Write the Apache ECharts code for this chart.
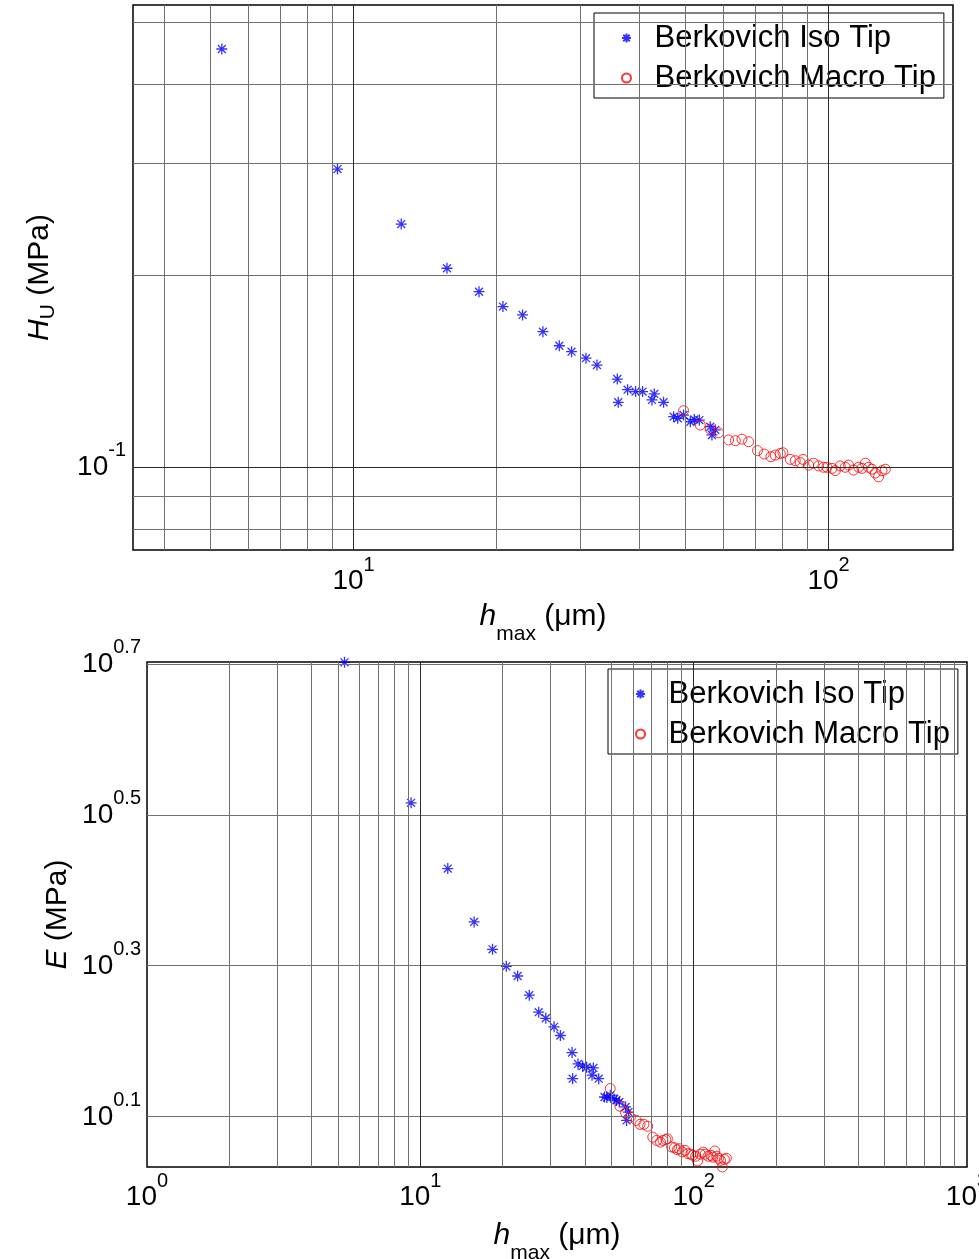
<!DOCTYPE html>
<html>
<head>
<meta charset="utf-8">
<script src="https://cdn.jsdelivr.net/npm/echarts@6/dist/echarts.min.js"></script>
<style>
  html, body { margin: 0; padding: 0; background: #fff; }
  #chart { width: 979px; height: 1259px; }
</style>
</head>
<body>
<div id="chart"></div>
<script>
// h_max (um), shared by both panels
var hIso = [5.28, 9.25, 12.60, 15.73, 18.37, 20.63, 22.69, 25.04, 27.11, 28.77, 30.85, 32.54, 35.91, 36.08, 37.75,
  39.24, 40.59, 42.96, 42.48, 44.94, 47.18, 48.14, 49.52, 51.16, 52.17, 53.45, 56.36, 56.82, 57.74];
var huIso = [0.454, 0.294, 0.241, 0.2054, 0.1887, 0.1788, 0.1735, 0.1633, 0.1552, 0.1519, 0.1484, 0.1447, 0.1376, 0.1265, 0.1324,
  0.1315, 0.1315, 0.1304, 0.1276, 0.1265, 0.1201, 0.1194, 0.1208, 0.1179, 0.1189, 0.1186, 0.1158, 0.1124, 0.1145];
var eIso = [5.035, 3.281, 2.685, 2.282, 2.099, 1.993, 1.935, 1.825, 1.733, 1.701, 1.657, 1.614, 1.532, 1.415, 1.480,
  1.470, 1.465, 1.462, 1.430, 1.415, 1.338, 1.336, 1.345, 1.331, 1.325, 1.318, 1.298, 1.246, 1.278];

var hMacro = [49.52, 53.70, 56.36, 58.67, 61.60, 63.63, 65.72, 67.86, 70.87, 73.21, 75.62, 77.22, 79.11, 80.17, 83.06,
  85.10, 87.19, 88.34, 90.77, 92.99, 95.27, 97.61, 99.22, 101.7, 103.3, 105.8, 108.4, 110.2, 112.9, 115.7,
  117.6, 119.5, 121.4, 123.4, 125.4, 127.4, 129.6, 131.7];
var huMacro = [0.1227, 0.1165, 0.1148, 0.1133, 0.1104, 0.1101, 0.1107, 0.1097, 0.1062, 0.1049, 0.1039, 0.1045, 0.1051, 0.1054, 0.1029,
  0.1024, 0.1017, 0.1029, 0.1008, 0.1015, 0.1005, 0.1000, 0.1000, 0.0996, 0.0988, 0.1005, 0.1000, 0.1008, 0.0990, 0.1000,
  0.0996, 0.1015, 0.1000, 0.0993, 0.0979, 0.0966, 0.0988, 0.0993];
var eMacro = [1.373, 1.301, 1.275, 1.258, 1.246, 1.231, 1.231, 1.224, 1.184, 1.172, 1.166, 1.172, 1.175, 1.178, 1.149,
  1.146, 1.139, 1.143, 1.132, 1.137, 1.126, 1.124, 1.120, 1.117, 1.101, 1.124, 1.131, 1.124, 1.117, 1.120,
  1.114, 1.135, 1.117, 1.110, 1.103, 1.081, 1.106, 1.110];

// axis limits and tick / grid values
var topXRange = [3.433, 182.8];
var topYRange = [0.07414, 0.5323];
var botXRange = [1, 1000];
var botYRange = [1.0809, 5.04];

var topXLabels = [10, 100];
var topXGrid = [4, 5, 6, 7, 8, 9, 20, 30, 40, 50, 60, 70, 80, 90];
var topYLabels = [0.1];
var topYGrid = [0.08, 0.09, 0.2, 0.3, 0.4, 0.5];

var botXLabels = [1, 10, 100, 1000];
var botXGrid = [2, 3, 4, 5, 6, 7, 8, 9, 20, 30, 40, 50, 60, 70, 80, 90,
  200, 300, 400, 500, 600, 700, 800, 900];
var botYExp = [0.1, 0.3, 0.5, 0.7];
var botYLabels = botYExp.map(function (e) { return Math.pow(10, e); });

var seriesNames = ["Berkovich Iso Tip", "Berkovich Macro Tip"];

var FONT = "'Liberation Sans', Arial, Helvetica, sans-serif";
var STAR = "path://M0,-5L0,5M-5,0L5,0M-3.6,-3.6L3.6,3.6M-3.6,3.6L3.6,-3.6";

function zip(xs, ys) {
  return xs.map(function (x, i) { return [x, ys[i]]; });
}

function powLabel(v) {
  var e = Math.round(Math.log10(v) * 10) / 10;
  return "{b|10}{sup|" + e + "}";
}

// base text centred in a tall line, the exponent hugs the top of it
var richPow = {
  b: { fontFamily: FONT, fontSize: 28, lineHeight: 53, color: "#000", verticalAlign: "middle" },
  sup: { fontFamily: FONT, fontSize: 20, lineHeight: 20, color: "#000", verticalAlign: "top" }
};

// axis titles: the line height sets how far the subscript drops
function nameRich(lh) {
  return {
    i: { fontFamily: FONT, fontSize: 30, lineHeight: lh, fontStyle: "italic", color: "#000", verticalAlign: "top" },
    s: { fontFamily: FONT, fontSize: 21, lineHeight: 18, color: "#000", verticalAlign: "bottom" },
    t: { fontFamily: FONT, fontSize: 30, lineHeight: lh, color: "#000", verticalAlign: "top" }
  };
}

function logAxis(gridIndex, range, labels, margin, name, nameGap, nameLh) {
  return {
    type: "log",
    logBase: 10,
    gridIndex: gridIndex,
    min: range[0],
    max: range[1],
    axisLine: { show: false },
    axisTick: { show: false },
    splitLine: { show: false },
    axisLabel: {
      customValues: labels,
      formatter: powLabel,
      rich: richPow,
      margin: margin,
      hideOverlap: false
    },
    name: name,
    nameLocation: "middle",
    nameGap: nameGap,
    nameMoveOverlap: false,
    nameTextStyle: { rich: nameRich(nameLh) }
  };
}

function gridLines(xIdx, yIdx, xs, ys, xMajor, yMajor) {
  var minor = { color: "#707070", width: 1, type: "solid" };
  var major = { color: "#2a2a2a", width: 1, type: "solid" };
  var data = [];
  xs.forEach(function (v) { data.push({ xAxis: v, lineStyle: minor }); });
  ys.forEach(function (v) { data.push({ yAxis: v, lineStyle: minor }); });
  xMajor.forEach(function (v) { data.push({ xAxis: v, lineStyle: major }); });
  yMajor.forEach(function (v) { data.push({ yAxis: v, lineStyle: major }); });
  return {
    type: "scatter",
    xAxisIndex: xIdx,
    yAxisIndex: yIdx,
    data: [],
    z: 1,
    silent: true,
    markLine: {
      silent: true,
      symbol: "none",
      animation: false,
      label: { show: false },
      lineStyle: minor,
      emphasis: { disabled: true },
      data: data
    }
  };
}

function isoSeries(idx, xs, ys) {
  return {
    name: seriesNames[0],
    type: "scatter",
    xAxisIndex: idx,
    yAxisIndex: idx,
    data: zip(xs, ys),
    symbol: STAR,
    symbolSize: 11,
    z: 3,
    itemStyle: { color: "rgba(0,0,0,0)", borderColor: "#0000ff", borderWidth: 1.3 }
  };
}

function macroSeries(idx, xs, ys) {
  return {
    name: seriesNames[1],
    type: "scatter",
    xAxisIndex: idx,
    yAxisIndex: idx,
    data: zip(xs, ys),
    symbol: "circle",
    symbolSize: 10,
    z: 3,
    itemStyle: { color: "rgba(0,0,0,0)", borderColor: "#ff0000", borderWidth: 1 }
  };
}

function legendAt(left, top) {
  return {
    data: seriesNames,
    orient: "vertical",
    left: left,
    top: top,
    itemWidth: 46,
    itemHeight: 9,
    itemGap: 6,
    padding: [8, 8, 3, 27],
    backgroundColor: "#fff",
    borderColor: "#000",
    borderWidth: 1,
    borderRadius: 0,
    selectedMode: false,
    textStyle: { fontFamily: FONT, fontSize: 31, lineHeight: 34, color: "#000" }
  };
}

var chart = echarts.init(document.getElementById("chart"), null, { renderer: "canvas" });

chart.setOption({
  animation: false,
  backgroundColor: "#fff",
  grid: [
    { left: 133, right: 26, top: 5, height: 545, show: true, borderColor: "#000", borderWidth: 1.5,
      backgroundColor: "transparent", outerBoundsMode: "none" },
    { left: 147, right: 12, top: 662, height: 505, show: true, borderColor: "#000", borderWidth: 1.5,
      backgroundColor: "transparent", outerBoundsMode: "none" }
  ],
  xAxis: [
    logAxis(0, topXRange, topXLabels, 5, "{i|h}{s|max}{t| (\u03bcm)}", 52, 43),
    logAxis(1, botXRange, botXLabels, 4, "{i|h}{s|max}{t| (\u03bcm)}", 54, 43)
  ],
  yAxis: [
    logAxis(0, topYRange, topYLabels, 7, "{i|H}{s|U}{t| (MPa)}", 74, 34),
    logAxis(1, botYRange, botYLabels, 6, "{i|E}{t| (MPa)}", 70, 34)
  ],
  legend: [legendAt(594, 13), legendAt(608, 669)],
  series: [
    gridLines(0, 0, topXGrid, topYGrid, topXLabels, topYLabels),
    gridLines(1, 1, botXGrid, botYLabels, botXLabels.slice(1, 3), []),
    isoSeries(0, hIso, huIso),
    macroSeries(0, hMacro, huMacro),
    isoSeries(1, hIso, eIso),
    macroSeries(1, hMacro, eMacro)
  ]
});
</script>
</body>
</html>
